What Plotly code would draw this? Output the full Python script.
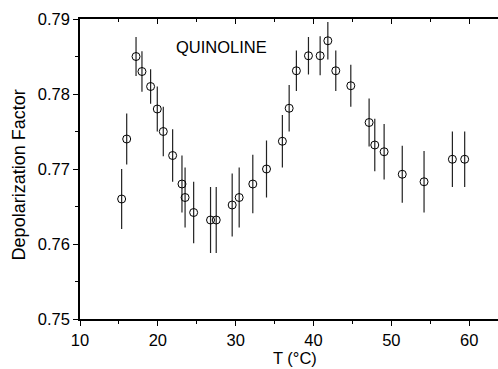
import plotly.graph_objects as go

temperature_c = [15.35, 16.0, 17.2, 17.96, 19.07, 19.93, 20.7, 21.9, 23.1, 23.5,
                 24.6, 26.77, 27.5, 29.55, 30.45, 32.2, 33.96, 36.0, 36.87, 37.8,
                 39.35, 40.85, 41.84, 42.86, 44.79, 47.14, 47.87, 49.07, 51.4, 54.2,
                 57.84, 59.42]
depolarization = [0.766, 0.774, 0.785, 0.783, 0.781, 0.778, 0.775, 0.7718, 0.768, 0.7662,
                  0.7642, 0.7632, 0.7632, 0.7652, 0.7662, 0.768, 0.770, 0.7737, 0.7781, 0.7831,
                  0.7851, 0.7851, 0.7871, 0.7831, 0.7811, 0.7762, 0.7732, 0.7723, 0.7693, 0.7683,
                  0.7713, 0.7713]
error = [0.004, 0.0034, 0.0026, 0.0027, 0.0023, 0.003, 0.0033, 0.0035, 0.0038, 0.004,
         0.0041, 0.0044, 0.0044, 0.0042, 0.004, 0.0039, 0.0038, 0.0035, 0.0031, 0.0027,
         0.0025, 0.0026, 0.0025, 0.0027, 0.0028, 0.0032, 0.0035, 0.0037, 0.0038, 0.0041,
         0.0037, 0.0037]

x_ticks = [10, 20, 30, 40, 50, 60]
y_ticks = [0.75, 0.76, 0.77, 0.78, 0.79]
x_range = [10, 63.7]
y_range = [0.75, 0.79]
label_text = "QUINOLINE"
x_title = "T (°C)"
y_title = "Depolarization Factor"

FONT = "Liberation Sans, Arial, Helvetica, sans-serif"

fig = go.Figure()
fig.add_trace(go.Scatter(
    x=temperature_c, y=depolarization, mode="markers",
    marker=dict(symbol="circle-open", size=8, color="black", line=dict(width=1, color="black")),
    error_y=dict(type="data", array=error, visible=True, color="#222222", thickness=1.2, width=0),
    showlegend=False, hoverinfo="skip",
))
# invisible trace to anchor the top axis
fig.add_trace(go.Scatter(x=x_range, y=y_range, xaxis="x2", mode="markers",
                         marker=dict(opacity=0), showlegend=False, hoverinfo="skip"))

fig.add_annotation(x=28.2, y=0.7863, text=label_text, showarrow=False,
                   font=dict(family=FONT, size=16.5, color="black"))
fig.add_annotation(xref="paper", yref="paper", x=0.514, y=-0.13, text=x_title,
                   showarrow=False, xanchor="center", yanchor="middle",
                   font=dict(family=FONT, size=16.5, color="black"))
fig.add_annotation(xref="paper", yref="paper", x=-0.145, y=0.48, text=y_title,
                   showarrow=False, xanchor="center", yanchor="middle", textangle=-90,
                   font=dict(family=FONT, size=18, color="black"))

fig.update_layout(
    width=498, height=369,
    margin=dict(l=80, r=0, t=19, b=50),
    paper_bgcolor="white", plot_bgcolor="white",
    font=dict(family=FONT, size=16.5, color="black"),
    xaxis=dict(
        range=x_range, tickvals=x_ticks, ticks="outside", ticklen=5, tickwidth=1,
        tickcolor="black", showline=True, linecolor="black", linewidth=1.5,
        showgrid=False, zeroline=False,
        minor=dict(dtick=5, tick0=0, ticks="outside", ticklen=3, tickcolor="black", showgrid=False),
        tickfont=dict(size=16.5),
    ),
    xaxis2=dict(
        range=x_range, overlaying="x", side="top", showticklabels=False,
        tickvals=x_ticks, ticks="inside", ticklen=5, tickcolor="black",
        minor=dict(dtick=5, tick0=0, ticks="inside", ticklen=3, tickcolor="black", showgrid=False),
        showline=True, linecolor="black", linewidth=1.5, showgrid=False, zeroline=False,
    ),
    yaxis=dict(
        range=y_range, tickvals=y_ticks, tickformat=".2f", ticks="outside", ticklen=5,
        tickwidth=1, tickcolor="black", showline=True, linecolor="black", linewidth=1.5,
        showgrid=False, zeroline=False,
        minor=dict(dtick=0.005, tick0=0.75, ticks="outside", ticklen=3, tickcolor="black", showgrid=False),
        tickfont=dict(size=16.5),
    ),
)

fig.write_html("out.html")
